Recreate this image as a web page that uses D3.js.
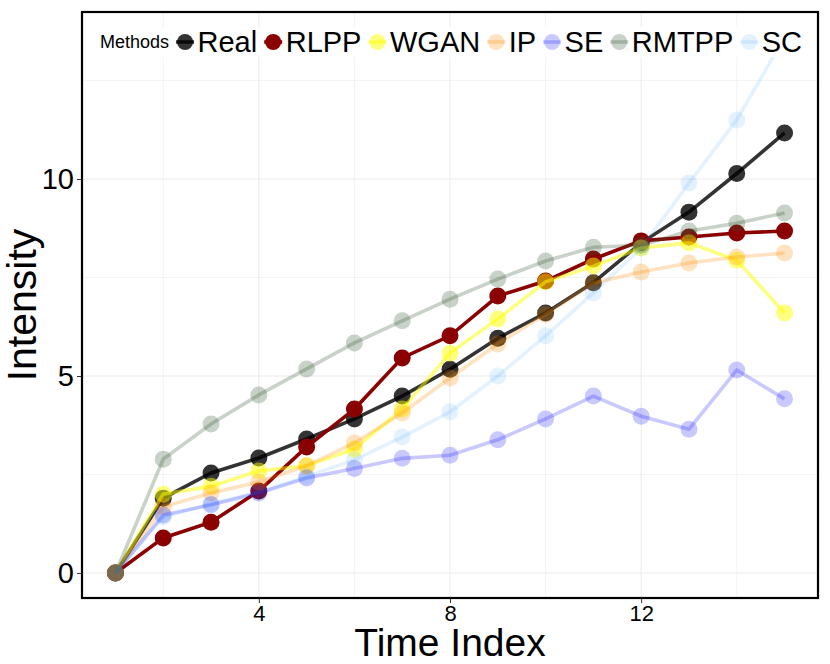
<!DOCTYPE html>
<html>
<head>
  <script src="https://d3js.org/d3.v7.min.js"></script>
  <style>
    body { margin: 0; background: #fff; }
    text { font-family: "Liberation Sans", Arial, sans-serif; }
  </style>
</head>
<body>
<div id="chart"></div>
<script>
  // data
  var timeIndex = [1, 2, 3, 4, 5, 6, 7, 8, 9, 10, 11, 12, 13, 14, 15];
  var methods = ["Real", "RLPP", "WGAN", "IP", "SE", "RMTPP", "SC"];
  var real  = [0, 1.90, 2.54, 2.92, 3.40, 3.91, 4.49, 5.17, 5.96, 6.60, 7.37, 8.38, 9.16, 10.14, 11.17];
  var rlpp  = [0, 0.89, 1.29, 2.08, 3.20, 4.16, 5.46, 6.02, 7.03, 7.41, 7.97, 8.43, 8.53, 8.63, 8.68];
  var wgan  = [0, 2.00, 2.20, 2.59, 2.72, 3.15, 4.16, 5.58, 6.45, 7.39, 7.79, 8.25, 8.38, 7.94, 6.60];
  var ip    = [0, 1.68, 2.03, 2.31, 2.72, 3.30, 4.06, 4.95, 5.81, 6.57, 7.36, 7.64, 7.87, 8.02, 8.12];
  var se    = [0, 1.47, 1.73, 2.03, 2.41, 2.65, 2.91, 2.99, 3.38, 3.91, 4.49, 3.98, 3.65, 5.15, 4.42];
  var rmtpp = [0, 2.89, 3.78, 4.52, 5.18, 5.84, 6.40, 6.95, 7.46, 7.92, 8.27, 8.32, 8.68, 8.88, 9.14];
  var sc    = [0, 1.42, 1.75, 2.05, 2.45, 2.87, 3.45, 4.09, 5.00, 6.02, 7.11, 8.25, 9.90, 11.50, 13.60];
  var xTicks = [4, 8, 12];
  var xMinor = [2, 6, 10, 14];
  var yTicks = [0, 5, 10];
  var yMinor = [2.5, 7.5, 12.5];

  var seriesValues = [real, rlpp, wgan, ip, se, rmtpp, sc];
  var colors = ["#000000", "#8b0000", "#ffff00", "#ff8c00", "#0000ff", "#3b5e3b", "#1e90ff"];
  var alphas = [0.8, 1, 0.5, 0.25, 0.21, 0.28, 0.12];

  var width = 830, height = 664;
  var pLeft = 82, pRight = 818, pTop = 12, pBottom = 598;

  var svg = d3.select("#chart").append("svg")
    .attr("width", width)
    .attr("height", height);

  // ggplot style 5% expansion
  var x = d3.scaleLinear().domain([0.3, 15.7]).range([pLeft, pRight]);
  var y = d3.scaleLinear().domain([-0.635, 14.24]).range([pBottom, pTop]);

  // grid
  var grid = svg.append("g");
  grid.selectAll(".gx").data(xMinor.concat(xTicks)).enter().append("line")
    .attr("x1", function(d) { return x(d); }).attr("x2", function(d) { return x(d); })
    .attr("y1", pTop).attr("y2", pBottom)
    .attr("stroke", "#ebebeb").attr("stroke-width", function(d) { return xTicks.indexOf(d) >= 0 ? 1 : 0.6; });
  grid.selectAll(".gy").data(yMinor.concat(yTicks)).enter().append("line")
    .attr("y1", function(d) { return y(d); }).attr("y2", function(d) { return y(d); })
    .attr("x1", pLeft).attr("x2", pRight)
    .attr("stroke", "#ebebeb").attr("stroke-width", function(d) { return yTicks.indexOf(d) >= 0 ? 1 : 0.6; });

  // series
  var line = d3.line()
    .x(function(d) { return x(d[0]); })
    .y(function(d) { return y(d[1]); });

  var plot = svg.append("g");
  seriesValues.forEach(function(vals, i) {
    var pts = timeIndex.map(function(t, j) { return [t, vals[j]]; });
    var g = plot.append("g");
    g.append("path")
      .attr("d", line(pts))
      .attr("fill", "none")
      .attr("stroke", colors[i])
      .attr("stroke-opacity", alphas[i])
      .attr("stroke-width", 3.6);
    g.selectAll("circle").data(pts).enter().append("circle")
      .attr("cx", function(d) { return x(d[0]); })
      .attr("cy", function(d) { return y(d[1]); })
      .attr("r", 8.5)
      .attr("fill", colors[i])
      .attr("fill-opacity", alphas[i]);
  });

  // legend
  var legend = svg.append("g");
  var legendBg = legend.append("rect").attr("fill", "#fff");
  var title = legend.append("text")
    .attr("x", 100).attr("y", 48)
    .attr("font-size", 18)
    .text("Methods");
  var cursor = 100 + title.node().getComputedTextLength();
  methods.forEach(function(m, i) {
    var cx = cursor + 16;
    legend.append("line")
      .attr("x1", cx - 9).attr("x2", cx + 9)
      .attr("y1", 42).attr("y2", 42)
      .attr("stroke", colors[i]).attr("stroke-opacity", alphas[i])
      .attr("stroke-width", 3.6);
    legend.append("circle")
      .attr("cx", cx).attr("cy", 42).attr("r", 8)
      .attr("fill", colors[i]).attr("fill-opacity", alphas[i]);
    var t = legend.append("text")
      .attr("x", cx + 12.5).attr("y", 52)
      .attr("font-size", 29)
      .text(m);
    cursor = cx + 12.5 + t.node().getComputedTextLength();
  });
  legendBg.attr("x", 95).attr("y", 27).attr("width", cursor - 90).attr("height", 30);

  // panel border
  svg.append("rect")
    .attr("x", pLeft).attr("y", pTop)
    .attr("width", pRight - pLeft).attr("height", pBottom - pTop)
    .attr("fill", "none").attr("stroke", "#000").attr("stroke-width", 2.2);

  // axes
  var xAxis = svg.append("g")
    .attr("transform", "translate(0," + (pBottom + 1) + ")")
    .call(d3.axisBottom(x).tickValues(xTicks).tickSize(4).tickPadding(2));
  var yAxis = svg.append("g")
    .attr("transform", "translate(" + (pLeft - 1) + ",0)")
    .call(d3.axisLeft(y).tickValues(yTicks).tickSize(4).tickPadding(3));
  xAxis.select(".domain").remove();
  yAxis.select(".domain").remove();
  xAxis.selectAll("line").attr("stroke", "#333");
  yAxis.selectAll("line").attr("stroke", "#333");
  xAxis.selectAll("text").attr("font-size", 22).attr("fill", "#000")
    .attr("font-family", "Liberation Sans, Arial, sans-serif");
  yAxis.selectAll("text").attr("font-size", 29).attr("fill", "#000")
    .attr("font-family", "Liberation Sans, Arial, sans-serif");

  // axis titles
  svg.append("text")
    .attr("x", (pLeft + pRight) / 2).attr("y", 656)
    .attr("text-anchor", "middle")
    .attr("font-size", 39)
    .text("Time Index");
  svg.append("text")
    .attr("transform", "translate(36," + ((pTop + pBottom) / 2) + ") rotate(-90)")
    .attr("text-anchor", "middle")
    .attr("font-size", 41)
    .text("Intensity");
</script>
</body>
</html>
